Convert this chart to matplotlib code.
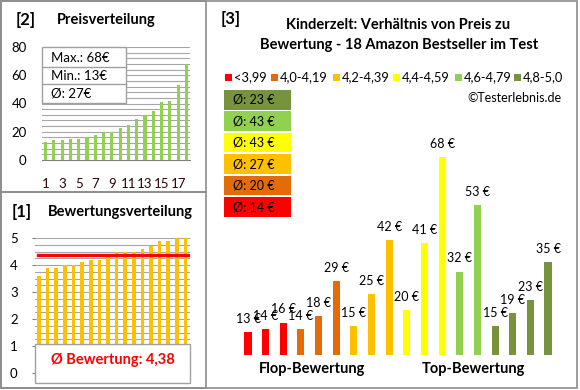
import matplotlib
matplotlib.use("Agg")
import matplotlib.pyplot as plt
from matplotlib.patches import Rectangle
import numpy as np

plt.rcParams["font.family"] = ["Lato", "DejaVu Sans"]

# Daten: Preise und Bewertungen der 18 Produkte (Reihenfolge wie im Hauptdiagramm)
preise = [13, 14, 16, 14, 18, 29, 15, 25, 42, 20, 41, 68, 32, 53, 15, 19, 23, 35]
bewertungen = [3.6, 3.9, 3.9, 4.0, 4.0, 4.1, 4.2, 4.2, 4.3,
               4.5, 4.5, 4.5, 4.6, 4.7, 4.9, 4.9, 5.0, 5.0]
klassen = ["<3,99", "4,0-4,19", "4,2-4,39", "4,4-4,59", "4,6-4,79", "4,8-5,0"]
farben = ["#FF0000", "#E36C09", "#FFC000", "#FFFF00", "#92D050", "#77933C"]
klasse_je_produkt = [0, 0, 0, 1, 1, 1, 2, 2, 2, 3, 3, 3, 4, 4, 5, 5, 5, 5]
durchschnitt_klasse = [14, 20, 27, 43, 43, 23]

W, H = 580, 390
fig = plt.figure(figsize=(W / 100, H / 100), dpi=100)


def fx(x):
    return x / W


def fy(y):
    return 1 - y / H


def ax_px(left, top, right, bottom):
    return fig.add_axes([fx(left), fy(bottom), fx(right) - fx(left), (bottom - top) / H])


grau = "#8c8c8c"
# Rahmen
for (l, t, r, b) in [(1, 1, 577, 388), (1, 1, 205.5, 192), (1, 192, 205.5, 388)]:
    fig.patches.append(Rectangle((fx(l), fy(b)), fx(r) - fx(l), (b - t) / H,
                                 transform=fig.transFigure, fill=False,
                                 edgecolor=grau, lw=1.2))

# ---------- [2] Preisverteilung ----------
fig.text(fx(16), fy(20), "[2]", fontsize=12, fontweight="bold", va="center")
fig.text(fx(57), fy(20), "Preisverteilung", fontsize=10.5, fontweight="bold", va="center")

ax2 = ax_px(42, 47, 190, 160)
preise_sortiert = sorted(preise)
x2 = np.arange(1, len(preise_sortiert) + 1)
ax2.bar(x2, preise_sortiert, width=0.38, color="#92D050", zorder=3)
ax2.set_xlim(0.58, 18.42)
ax2.set_ylim(0, 80)
for g in np.arange(4, 81, 4):
    ax2.axhline(g, color="#a6a6a6", lw=0.8, zorder=1)
ax2.set_yticks([0, 20, 40, 60, 80])
ax2.set_xticks(range(1, 18, 2))
ax2.tick_params(axis="both", length=0, labelsize=9.5)
ax2.tick_params(axis="y", pad=11)
ax2.tick_params(axis="x", pad=13, labelcolor="#2b0505")
for s in ["top", "right", "left"]:
    ax2.spines[s].set_visible(False)
ax2.spines["bottom"].set_color("#808080")

# Statistik-Box
box_l, box_t, box_r, box_b = 42, 47, 126, 103
fig.patches.append(Rectangle((fx(box_l), fy(box_b)), fx(box_r) - fx(box_l), (box_b - box_t) / H,
                             transform=fig.transFigure, facecolor="white",
                             edgecolor="#a0a0a0", lw=1, zorder=5))
for yline in [67, 84]:
    fig.add_artist(plt.Line2D([fx(box_l), fx(box_r)], [fy(yline), fy(yline)],
                              color="#a0a0a0", lw=1, zorder=6))
stat_texte = [f"Max.: {max(preise)}€", f"Min.: {min(preise)}€",
              f"Ø: {round(np.mean(preise))}€"]
for txt, yy in zip(stat_texte, [58, 76, 93]):
    fig.text(fx(51), fy(yy), txt, fontsize=9.5, va="center", zorder=7)

# ---------- [1] Bewertungsverteilung ----------
fig.text(fx(12), fy(212), "[1]", fontsize=12, fontweight="bold", va="center")
fig.text(fx(48), fy(212), "Bewertungsverteilung", fontsize=10.5, fontweight="bold", va="center")

ax1 = ax_px(35, 238, 190, 373)
x1 = np.arange(1, len(bewertungen) + 1)
ax1.bar(x1, bewertungen, width=0.42, color="#FFC000", zorder=3)
ax1.set_xlim(0.54, 18.52)
ax1.set_ylim(0, 5)
for g in np.arange(0.25, 5.01, 0.25):
    ax1.axhline(g, color="#a6a6a6", lw=0.8, zorder=1)
mittel = np.mean(bewertungen)
ax1.axhline(mittel, xmin=0.02, xmax=0.985, color="#FF0000", lw=2.4, zorder=4)
ax1.set_yticks(range(0, 6))
ax1.set_xticks([])
ax1.tick_params(axis="y", length=2.5, color="#808080", labelsize=9.5, pad=10)
for s in ["top", "right", "left"]:
    ax1.spines[s].set_visible(False)
ax1.spines["bottom"].set_color("#808080")

b_l, b_t, b_r, b_b = 35, 344, 190, 383
fig.patches.append(Rectangle((fx(b_l), fy(b_b)), fx(b_r) - fx(b_l), (b_b - b_t) / H,
                             transform=fig.transFigure, facecolor="white",
                             edgecolor="#a0a0a0", lw=1, zorder=5))
fig.text(fx((b_l + b_r) / 2), fy(360), "Ø Bewertung: " + f"{mittel:.2f}".replace(".", ","),
         fontsize=10.5, fontweight="bold", color="#FF0000", ha="center", va="center", zorder=7)

# ---------- [3] Preis zu Bewertung ----------
fig.text(fx(221), fy(19), "[3]", fontsize=12, fontweight="bold", va="center")
fig.text(fx(398), fy(25), "Kinderzelt: Verhältnis von Preis zu",
         fontsize=10.5, fontweight="bold", ha="center", va="center")
fig.text(fx(399), fy(45), "Bewertung - 18 Amazon Bestseller im Test",
         fontsize=10.5, fontweight="bold", ha="center", va="center")

# Legende
leg_x = [225, 271, 333, 393, 455, 514]
for xs, lab, c in zip(leg_x, klassen, farben):
    fig.patches.append(Rectangle((fx(xs), fy(81)), 7 / W, 7 / H,
                                 transform=fig.transFigure, facecolor=c, edgecolor="none"))
    fig.text(fx(xs + 9), fy(77), lab, fontsize=9.3, va="center")
fig.text(fx(562), fy(98), "©Testerlebnis.de", fontsize=9, ha="right", va="center")

# Durchschnitts-Kästen (oben: beste Klasse)
for i, k in enumerate(range(len(klassen) - 1, -1, -1)):
    top = 90 + i * 21.4
    fig.patches.append(Rectangle((fx(224), fy(top + 19.5)), 67 / W, 19.5 / H,
                                 transform=fig.transFigure, facecolor=farben[k],
                                 edgecolor="none", zorder=2))
    fig.text(fx(233), fy(top + 10), f"Ø: {durchschnitt_klasse[k]} €", fontsize=9,
             va="center", zorder=3)

ax3 = ax_px(230, 120, 566, 355)
x3 = np.arange(len(preise))
ax3.bar(x3, preise, width=0.4, color=[farben[k] for k in klasse_je_produkt], zorder=3)
ax3.set_xlim(-1.02, len(preise) + 0.02)
ax3.set_ylim(5.8, 79.7)
for xi, p in zip(x3, preise):
    ax3.annotate(f"{p} €", (xi, p), xytext=(0, 9.5), textcoords="offset points",
                 ha="center", va="center", fontsize=9, zorder=4)
ax3.axis("off")
ax3.patch.set_visible(False)

fig.text(fx(312), fy(369), "Flop-Bewertung", fontsize=10.5, fontweight="bold", ha="center", va="center")
fig.text(fx(473), fy(369), "Top-Bewertung", fontsize=10.5, fontweight="bold", ha="center", va="center")

fig.savefig("out.png", dpi=100)
